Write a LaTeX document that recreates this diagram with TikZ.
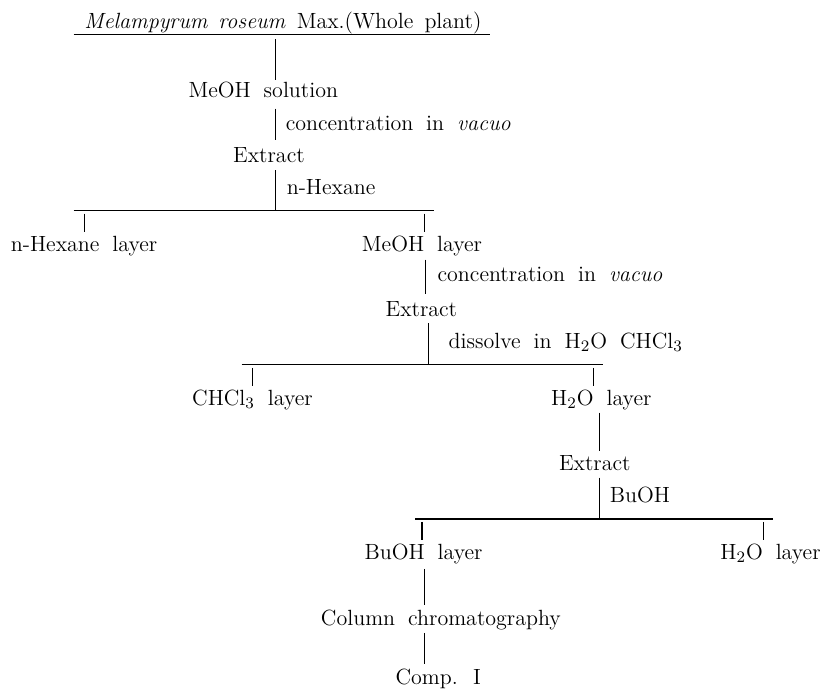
\documentclass[tikz,border=0pt]{standalone}
\usetikzlibrary{calc}
\begin{document}
\begin{tikzpicture}[x=0.26274pt,y=-0.22026pt,
  txt/.style={anchor=base west,inner sep=0pt,text height=8.2pt,text depth=2.6pt,
    font=\fontsize{11}{13}\selectfont,
    execute at begin node={\spaceskip=6.5pt plus 1pt minus 1pt\relax}},
  ln/.style={line width=0.55pt},
  vconn/.style={line width=0.55pt,shorten <=#1},
  vconn/.default=2.6pt]
\useasboundingbox (0,0) rectangle (1568,1568);
% column x positions
\coordinate (c1) at (525,0);
\coordinate (c2) at (810,0);
\coordinate (c2b) at (815,0);
\coordinate (c3) at (1140,0);
\coordinate (c4) at (808,0);
% bars and drops
\coordinate (b1l) at (140,478);  \coordinate (b1r) at (825,478);
\coordinate (d1) at (160,478);   \coordinate (d2) at (808,478);
\coordinate (b2l) at (460,827);  \coordinate (b2r) at (1147,827);
\coordinate (d3) at (480,827);   \coordinate (d4) at (1130,827);
\coordinate (b3l) at (790,1178); \coordinate (b3r) at (1470,1178);
\coordinate (d5) at (803,1178);  \coordinate (d6) at (1453,1178);

% nodes
\node[txt] (title) at (160,65) {\spaceskip=5.5pt plus 1pt\relax\textit{Melampyrum roseum} Max.(Whole plant)};
\node[txt] (meohsol) at (358,222) {MeOH solution};
\node[txt] (conc1) at (543,296) {concentration in \textit{vacuo}};
\node[txt] (ext1) at (443,368) {Extract};
\node[txt] (nhex) at (545,442) {n-Hexane};
\node[txt] (nhexl) at (20,570) {n-Hexane layer};
\node[txt] (meohl) at (688,570) {MeOH layer};
\node[txt] (conc2) at (832,640) {concentration in \textit{vacuo}};
\node[txt] (ext2) at (733,718) {Extract};
\node[txt] (diss) at (853,790) {dissolve in H$_2$O CHCl$_3$};
\node[txt] (chcl) at (365,920) {CHCl$_3$ layer};
\node[txt] (h2ol1) at (1048,920) {H$_2$O layer};
\node[txt] (ext3) at (1063,1068) {Extract};
\node[txt] (buoh) at (1160,1140) {BuOH};
\node[txt] (buohl) at (693,1270) {BuOH layer};
\node[txt] (h2ol2) at (1370,1270) {H$_2$O layer};
\node[txt] (col) at (610,1420) {Column chromatography};
\node[txt] (comp) at (752,1553) {Comp. I};

% underline of title
\coordinate (ulL) at ($(title.base west)+(-20,13)$);
\coordinate (ulR) at ($(title.base east)+(15,13)$);
\draw[ln] (ulL) -- (ulR);

% vertical connectors
\draw[vconn, shorten >=0.3pt] (title.south -| c1) -- (meohsol.north -| c1);
\draw[vconn, shorten >=2.6pt] (meohsol.south -| c1) -- (ext1.north -| c1);
\draw[vconn=1.2pt] (ext1.south -| c1) -- (b1l -| c1);
\draw[ln] (b1l) -- (b1r);
\draw[vconn=1.5pt, shorten >=1.3pt] (d1) -- (nhexl.north -| d1);
\draw[vconn=1.5pt, shorten >=1.3pt] (d2) -- (meohl.north -| d2);
\draw[vconn=1.5pt, shorten >=2.6pt] (meohl.south -| c2) -- (ext2.north -| c2);
\draw[vconn=0.6pt] (ext2.south -| c2b) -- (b2l -| c2b);
\draw[ln] (b2l) -- (b2r);
\draw[vconn=1.8pt, shorten >=1.3pt] (d3) -- (chcl.north -| d3);
\draw[vconn=1.8pt, shorten >=1.3pt] (d4) -- (h2ol1.north -| d4);
\draw[vconn=0.8pt, shorten >=1.5pt] (h2ol1.south -| c3) -- (ext3.north -| c3);
\draw[vconn=0.8pt] (ext3.south -| c3) -- (b3l -| c3);
\draw[ln] (b3l) -- (b3r);
\draw[vconn=1.5pt, shorten >=1.3pt] (d5) -- (buohl.north -| d5);
\draw[vconn=1.5pt, shorten >=1.3pt] (d6) -- (h2ol2.north -| d6);
\draw[vconn=1.9pt, shorten >=1.9pt] (buohl.south -| c4) -- (col.north -| c4);
\draw[vconn=0.8pt, shorten >=1.9pt] (col.south -| c4) -- (comp.north -| c4);
\end{tikzpicture}
\end{document}
